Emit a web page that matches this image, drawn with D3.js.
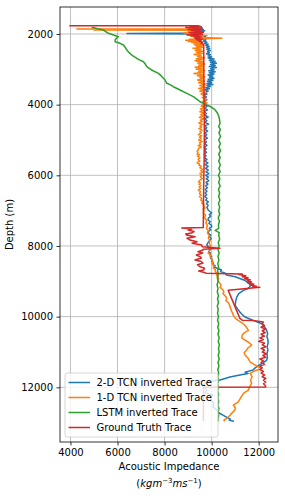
<!DOCTYPE html>
<html>
<head>
<meta charset="utf-8">
<script src="https://cdn.jsdelivr.net/npm/d3@7"></script>
<style>
  body { margin: 0; background: #fff; }
  svg { display: block; font-family: "DejaVu Sans", sans-serif; }
</style>
</head>
<body>
<svg id="chart"></svg>
<script>
'use strict'

const width = 285,
      height = 498,
      margin = {top: 7, right: 7, bottom: 56, left: 60}

// depth (m), impedance pairs
const tcn2d = [
  [1770, 9300], [1790, 9550], [1810, 9200], [1830, 9600], [1850, 9350], [1870, 9650], [1890, 9400],
  [1910, 9700], [1930, 9450], [1950, 9650], [1970, 9500], [1985, 6400], [2000, 9600], [2020, 9350],
  [2040, 9700], [2060, 9450], [2080, 9750], [2100, 9550], [2120, 9800], [2140, 9600], [2170, 9750],
  [2200, 9650], [2230, 9800], [2260, 9700], [2290, 9850], [2320, 9750], [2350, 9900], [2380, 9780],
  [2410, 9920], [2440, 9800], [2470, 9950], [2500, 9820], [2530, 9900], [2560, 9780], [2590, 9950],
  [2620, 9850], [2650, 10000], [2680, 9850], [2710, 10100], [2740, 9900], [2770, 10150], [2800, 9950],
  [2830, 10200], [2860, 9950], [2890, 10150], [2920, 9900], [2950, 10200], [2980, 9950], [3010, 10100],
  [3040, 9880], [3070, 10150], [3100, 9900], [3130, 10100], [3160, 9850], [3190, 10050], [3220, 9900],
  [3250, 10100], [3280, 9850], [3310, 10050], [3340, 9820], [3370, 10000], [3400, 9800], [3430, 10050],
  [3460, 9800], [3490, 9950], [3520, 9750], [3550, 9900], [3580, 9720], [3620, 9850], [3660, 9700],
  [3700, 9800], [3740, 9650], [3780, 9780], [3820, 9680], [3860, 9800], [3900, 9700], [3950, 9780],
  [4000, 9680], [4050, 9800], [4100, 9700], [4150, 9820], [4200, 9690], [4250, 9780], [4300, 9700],
  [4350, 9850], [4400, 9690], [4450, 9800], [4500, 9720], [4550, 9870], [4600, 9700], [4650, 9790],
  [4700, 9720], [4750, 9830], [4800, 9700], [4850, 9790], [4900, 9710], [4950, 9820], [5000, 9700],
  [5050, 9780], [5100, 9710], [5150, 9800], [5200, 9690], [5250, 9770], [5300, 9700], [5350, 9780],
  [5400, 9690], [5450, 9760], [5500, 9700], [5550, 9800], [5600, 9710], [5650, 9840], [5700, 9730],
  [5750, 9850], [5800, 9740], [5850, 9860], [5900, 9760], [5950, 9880], [6000, 9750], [6050, 9860],
  [6100, 9770], [6150, 9880], [6200, 9760], [6250, 9840], [6300, 9750], [6350, 9820], [6400, 9730],
  [6450, 9800], [6500, 9720], [6550, 9790], [6600, 9710], [6650, 9800], [6700, 9750], [6750, 9860],
  [6800, 9780], [6850, 9850], [6900, 9800], [6983, 9850], [7068, 10000], [7110, 9900], [7160, 9960],
  [7210, 9860], [7266, 9850], [7310, 9940], [7360, 9880], [7410, 9990], [7455, 10000], [7500, 9900],
  [7540, 9960], [7590, 9870], [7635, 9850], [7690, 9960], [7740, 9900], [7790, 9980], [7832, 9930],
  [7900, 9850], [7974, 9790], [8040, 9900], [8115, 9930], [8160, 9870], [8200, 9950], [8250, 9920],
  [8305, 10000], [8350, 9960], [8400, 10030], [8440, 10000], [8483, 10070], [8520, 10040],
  [8560, 10150], [8600, 10120], [8624, 10210], [8681, 10420], [8720, 10380], [8760, 10550],
  [8823, 10630], [8870, 11000], [8920, 11200], [8970, 11400], [9020, 11500], [9070, 11600],
  [9120, 11650], [9170, 11600], [9220, 11500], [9257, 11350], [9350, 11150], [9446, 11070], [9560, 11020],
  [9681, 11000], [9780, 11100], [9870, 11200], [9940, 11300], [10012, 11420], [10060, 11600],
  [10105, 11770], [10150, 11950], [10201, 12130], [10290, 12250], [10388, 12340], [10480, 12380],
  [10560, 12350], [10650, 12390], [10748, 12400], [10850, 12360], [10950, 12390], [11050, 12350],
  [11150, 12370], [11229, 12340], [11300, 12200], [11380, 12000], [11450, 11850], [11512, 11760],
  [11570, 11420], [11610, 11550], [11654, 11200], [11710, 10780], [11795, 10360], [11824, 10060],
  [11860, 9800], [11900, 9700], [11950, 9650], [12000, 9700], [12080, 9800], [12150, 9720], [12220, 10050],
  [12300, 9950], [12361, 9970], [12450, 10100], [12550, 10050], [12644, 10210], [12720, 10300],
  [12786, 10480], [12850, 10650], [12900, 10800], [12930, 10750], [12960, 10950]
]

const tcn1d = [
  [1790, 9200], [1810, 9500], [1830, 9100], [1850, 9400], [1860, 4270], [1870, 9300], [1885, 5000],
  [1895, 9450], [1910, 9150], [1925, 9550], [1940, 9000], [1955, 9400], [1970, 8800], [1985, 9350],
  [2000, 8950], [2015, 9600], [2030, 9200], [2045, 9800], [2060, 9100], [2075, 9650], [2090, 9300],
  [2105, 9900], [2120, 10430], [2135, 9700], [2150, 9050], [2165, 9500], [2180, 8900], [2195, 9400],
  [2210, 9000], [2225, 9500], [2240, 9150], [2260, 9550], [2280, 9250], [2300, 9600], [2320, 9300],
  [2340, 9650], [2360, 9350], [2380, 9600], [2400, 9200], [2430, 9550], [2460, 9300], [2490, 9650],
  [2520, 9350], [2550, 9600], [2580, 9250], [2610, 9550], [2640, 9400], [2670, 9700], [2700, 9350],
  [2730, 9600], [2760, 9300], [2790, 9650], [2820, 9400], [2850, 9700], [2880, 9450], [2910, 9650],
  [2940, 9300], [2970, 9600], [3000, 9350], [3030, 9700], [3060, 9450], [3090, 9600], [3120, 9250],
  [3150, 9650], [3180, 9400], [3210, 9700], [3240, 9500], [3270, 9650], [3300, 9400], [3340, 9700],
  [3380, 9450], [3420, 9750], [3460, 9500], [3500, 9700], [3540, 9450], [3580, 9680], [3620, 9500],
  [3660, 9750], [3700, 9550], [3750, 9720], [3800, 9600], [3850, 9780], [3900, 9620], [3950, 9800],
  [4000, 9650], [4040, 9560], [4080, 9720], [4120, 9520], [4160, 9640], [4200, 9500], [4240, 9700],
  [4280, 9540], [4320, 9620], [4360, 9480], [4400, 9650], [4440, 9520], [4480, 9600], [4520, 9460],
  [4560, 9620], [4600, 9500], [4640, 9580], [4680, 9460], [4720, 9600], [4760, 9500], [4800, 9560],
  [4840, 9440], [4880, 9580], [4920, 9480], [4960, 9560], [5000, 9450], [5040, 9600], [5080, 9480],
  [5120, 9540], [5160, 9430], [5200, 9560], [5240, 9440], [5284, 9430], [5320, 9380], [5360, 9420],
  [5400, 9380], [5420, 9480], [5460, 9400], [5500, 9500], [5560, 9420], [5600, 9500], [5640, 9380],
  [5680, 9480], [5710, 9460], [5750, 9560], [5790, 9500], [5830, 9620], [5870, 9540], [5910, 9620],
  [5950, 9500], [6000, 9600], [6040, 9520], [6090, 9600], [6134, 9507], [6180, 9440], [6220, 9520],
  [6250, 9460], [6290, 9540], [6330, 9470], [6370, 9530], [6417, 9437], [6460, 9530], [6520, 9480],
  [6560, 9560], [6600, 9480], [6650, 9580], [6700, 9540], [6740, 9620], [6785, 9580], [6830, 9680],
  [6860, 9650], [6926, 9720], [6960, 9640], [7000, 9680], [7068, 9650], [7130, 9740], [7200, 9700],
  [7270, 9790], [7351, 9760], [7420, 9820], [7500, 9780], [7570, 9860], [7634, 9820], [7700, 9900],
  [7780, 9860], [7850, 9930], [7917, 9900], [7990, 9950], [8060, 9880], [8130, 9920], [8200, 9850],
  [8250, 9960], [8300, 9930], [8350, 10010], [8398, 10000], [8450, 10060], [8500, 10020],
  [8560, 10100], [8624, 10070], [8670, 10160], [8720, 10150], [8780, 10240], [8832, 10210],
  [8880, 10280], [8930, 10300], [8980, 10260], [9030, 10320], [9080, 10380], [9120, 10400],
  [9170, 10360], [9210, 10430], [9260, 10500], [9300, 10520], [9350, 10480], [9400, 10560],
  [9450, 10620], [9494, 10640], [9550, 10600], [9600, 10700], [9660, 10760], [9729, 10780],
  [9790, 10820], [9850, 10850], [9910, 10900], [9964, 10920], [10040, 11000], [10105, 11130],
  [10180, 11300], [10247, 11420], [10320, 11500], [10389, 11560], [10450, 11400], [10520, 11300],
  [10606, 11280], [10663, 11420], [10740, 11600], [10804, 11700], [10880, 11550], [10950, 11480],
  [11020, 11380], [11088, 11420], [11180, 11550], [11277, 11630], [11350, 11800], [11419, 11980],
  [11464, 12130], [11530, 11850], [11606, 11630], [11700, 11720], [11800, 11650], [11889, 11700],
  [11980, 11620], [12078, 11560], [12172, 11350], [12280, 11250], [12410, 11130], [12503, 10920],
  [12580, 11000], [12644, 10990], [12738, 10850], [12810, 10750], [12880, 10640], [12930, 10520],
  [12960, 10560]
]

const lstm = [
  [1811, 4900], [1830, 5050], [1850, 5150], [1867, 5261], [1887, 5400], [1930, 5500], [1981, 5614],
  [2029, 5826], [2077, 6038], [2120, 5950], [2170, 5898], [2218, 5898], [2264, 6110], [2312, 6250],
  [2380, 6330], [2453, 6395], [2520, 6480], [2595, 6607], [2688, 6820], [2740, 6950], [2784, 7100],
  [2850, 7180], [2926, 7244], [3020, 7456], [3070, 7600], [3113, 7737], [3180, 7850], [3255, 7949],
  [3303, 8021], [3396, 8093], [3440, 8250], [3492, 8374], [3586, 8658], [3679, 8943], [3775, 9223],
  [3850, 9380], [3917, 9507], [3960, 9650], [4010, 9792], [4075, 10004], [4150, 10150], [4220, 10230],
  [4293, 10284], [4400, 10330], [4528, 10357], [4620, 10300], [4700, 10370], [4800, 10310],
  [4900, 10380], [5000, 10300], [5100, 10370], [5200, 10310], [5300, 10380], [5400, 10300],
  [5500, 10360], [5600, 10300], [5700, 10370], [5800, 10310], [5900, 10360], [6000, 10290],
  [6100, 10350], [6200, 10300], [6300, 10360], [6400, 10290], [6500, 10340], [6600, 10300],
  [6700, 10350], [6800, 10290], [6900, 10340], [7000, 10300], [7100, 10340], [7200, 10280],
  [7300, 10330], [7400, 10290], [7500, 10300], [7560, 10150], [7620, 10320], [7700, 10300],
  [7800, 10340], [7900, 10280], [8000, 10320], [8100, 10270], [8200, 10320], [8300, 10270],
  [8400, 10310], [8500, 10260], [8600, 10300], [8700, 10250], [8800, 10290], [8900, 10240],
  [9000, 10280], [9100, 10230], [9200, 10270], [9300, 10240], [9400, 10290], [9500, 10250],
  [9600, 10290], [9700, 10240], [9800, 10280], [9900, 10250], [10000, 10290], [10100, 10250],
  [10200, 10300], [10300, 10260], [10400, 10310], [10500, 10270], [10600, 10320], [10700, 10280],
  [10800, 10330], [10900, 10290], [11000, 10320], [11100, 10280], [11200, 10320], [11300, 10270],
  [11400, 10310], [11500, 10260], [11600, 10300], [11700, 10260], [11800, 10300], [11900, 10250],
  [12000, 10290], [12100, 10250], [12200, 10300], [12300, 10260], [12400, 10300], [12500, 10260],
  [12600, 10310], [12700, 10270], [12800, 10300], [12900, 10260], [12960, 10290]
]

const groundTruth = [
  [1765, 3950], [1770, 9450], [1785, 9100], [1800, 9550], [1815, 8900], [1830, 9400], [1845, 9200],
  [1860, 9600], [1875, 9000], [1890, 9500], [1905, 9150], [1920, 9550], [1935, 9300], [1950, 9650],
  [1965, 9050], [1980, 9500], [1995, 9250], [2010, 9600], [2025, 8950], [2040, 9450], [2055, 9150],
  [2070, 9550], [2085, 9250], [2100, 9500], [2120, 9300], [2140, 9600], [2160, 9350], [2180, 9550],
  [2200, 9450], [2230, 9620], [2260, 9550], [2290, 9660], [2600, 9665], [3200, 9670], [4000, 9680],
  [4800, 9690], [5600, 9680], [6400, 9660], [7000, 9650], [7480, 9645], [7493, 8730], [7520, 9150],
  [7549, 9000], [7590, 9250], [7634, 9140], [7660, 8900], [7691, 8930], [7739, 9295], [7780, 8950],
  [7832, 9080], [7880, 9380], [7925, 9170], [7974, 9580], [8020, 9600], [8067, 10350], [8090, 9650],
  [8115, 9630], [8163, 9420], [8200, 9620], [8257, 9350], [8300, 9500], [8341, 9565], [8398, 9295],
  [8440, 9550], [8483, 9635], [8530, 9400], [8588, 9500], [8630, 9700], [8681, 9650], [8709, 9450],
  [8750, 9700], [8770, 9750], [8790, 11300], [8810, 11150], [8840, 11450], [8870, 11300], [8900, 11550],
  [8930, 11400], [8960, 11650], [8990, 11500], [9020, 11700], [9050, 11550], [9080, 11800], [9110, 11650],
  [9140, 11900], [9160, 11750], [9170, 12050], [9250, 10700], [10050, 11200], [10100, 11300],
  [10110, 11750], [10150, 12200], [10200, 12150], [10250, 12250], [10300, 12100], [10350, 12300],
  [10400, 12150], [10450, 12280], [10500, 12100], [10550, 12250], [10600, 12050], [10650, 12200],
  [10700, 12000], [10750, 12250], [10800, 12150], [10850, 12300], [10900, 12100], [10950, 12250],
  [11000, 12150], [11050, 12320], [11100, 12180], [11150, 12300], [11200, 12050], [11250, 12200],
  [11300, 12100], [11350, 12250], [11400, 12050], [11450, 12150], [11500, 12050], [11550, 12200],
  [11600, 12100], [11650, 12250], [11700, 12150], [11750, 12300], [11800, 12200], [11850, 12300],
  [11900, 12200], [11950, 12280], [11990, 12300], [12000, 9650], [12960, 9650]
]

const seriesNames = ["2-D TCN inverted Trace", "1-D TCN inverted Trace", "LSTM inverted Trace", "Ground Truth Trace"]
const seriesColors = ["#1f77b4", "#ff7f0e", "#2ca02c", "#d62728"]
const xTicks = [4000, 6000, 8000, 10000, 12000]
const yTicks = [2000, 4000, 6000, 8000, 10000, 12000]

const svg = d3.select("#chart")
  .attr("width", width)
  .attr("height", height)

const x = d3.scaleLinear()
  .domain([3555, 12820])
  .range([margin.left, width - margin.right])

const y = d3.scaleLinear()
  .domain([1236, 13548])
  .range([margin.top, height - margin.bottom])

// grid lines
const grid = svg.append("g")
grid.selectAll(".gx").data(xTicks).enter().append("line")
  .attr("x1", d => x(d)).attr("x2", d => x(d))
  .attr("y1", y.range()[0]).attr("y2", y.range()[1])
  .attr("stroke", "#b0b0b0").attr("stroke-width", 0.8)
grid.selectAll(".gy").data(yTicks).enter().append("line")
  .attr("x1", x.range()[0]).attr("x2", x.range()[1])
  .attr("y1", d => y(d)).attr("y2", d => y(d))
  .attr("stroke", "#b0b0b0").attr("stroke-width", 0.8)

// traces
const line = d3.line()
  .x(d => x(d[1]))
  .y(d => y(d[0]))

const traces = [tcn2d, tcn1d, lstm, groundTruth]
svg.append("g")
  .selectAll("path")
  .data(traces)
  .enter().append("path")
    .attr("d", line)
    .attr("fill", "none")
    .attr("stroke", (d, i) => seriesColors[i])
    .attr("stroke-width", 1.5)
    .attr("stroke-linejoin", "round")

// axes
const xAxis = svg.append("g")
  .attr("transform", `translate(0,${y.range()[1]})`)
  .call(d3.axisBottom(x).tickValues(xTicks).tickSize(3.5).tickPadding(3.5).tickFormat(d3.format("d")))
const yAxis = svg.append("g")
  .attr("transform", `translate(${x.range()[0]},0)`)
  .call(d3.axisLeft(y).tickValues(yTicks).tickSize(3.5).tickPadding(3.5).tickFormat(d3.format("d")))

;[xAxis, yAxis].forEach(a => {
  a.select(".domain").remove()
  a.selectAll("text").attr("font-size", 10).attr("font-family", "DejaVu Sans").attr("fill", "#000")
  a.selectAll("line").attr("stroke", "#000").attr("stroke-width", 0.8)
})

// frame
svg.append("rect")
  .attr("x", x.range()[0]).attr("y", y.range()[0])
  .attr("width", x.range()[1] - x.range()[0])
  .attr("height", y.range()[1] - y.range()[0])
  .attr("fill", "none").attr("stroke", "#000").attr("stroke-width", 0.8)

// axis labels
svg.append("text")
  .attr("transform", `translate(13,${(y.range()[0] + y.range()[1]) / 2}) rotate(-90)`)
  .attr("text-anchor", "middle")
  .attr("font-size", 10)
  .text("Depth (m)")

const cx = (x.range()[0] + x.range()[1]) / 2
svg.append("text")
  .attr("x", cx).attr("y", 470)
  .attr("text-anchor", "middle")
  .attr("font-size", 10)
  .text("Acoustic Impedance")

const unit = svg.append("text")
  .attr("x", cx).attr("y", 487)
  .attr("text-anchor", "middle")
  .attr("font-size", 10)
unit.append("tspan").text("(")
unit.append("tspan").attr("font-style", "italic").text("kgm")
unit.append("tspan").attr("font-size", 7).attr("dy", -4).text("−3")
unit.append("tspan").attr("font-style", "italic").attr("dy", 4).text("ms")
unit.append("tspan").attr("font-size", 7).attr("dy", -4).text("−1")
unit.append("tspan").attr("dy", 4).text(")")

// legend
const legend = svg.append("g").attr("transform", "translate(65,373)")
legend.append("rect")
  .attr("width", 153).attr("height", 64)
  .attr("rx", 2)
  .attr("fill", "#fff").attr("fill-opacity", 0.8)
  .attr("stroke", "#cccccc").attr("stroke-width", 0.8)
const items = legend.selectAll(".item")
  .data(seriesNames)
  .enter().append("g")
    .attr("transform", (d, i) => `translate(0,${9.5 + i * 15})`)
items.append("line")
  .attr("x1", 3.5).attr("x2", 25)
  .attr("stroke", (d, i) => seriesColors[i])
  .attr("stroke-width", 1.5)
items.append("text")
  .attr("x", 31.5).attr("dy", "0.35em")
  .attr("font-size", 10)
  .text(d => d)
</script>
</body>
</html>
